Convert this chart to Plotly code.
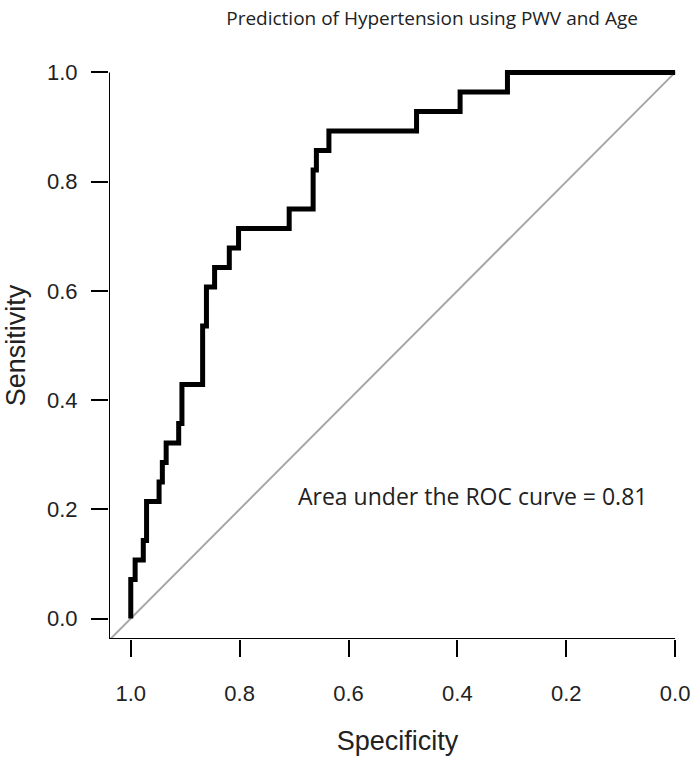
import plotly.graph_objects as go

# ROC step curve (specificity, sensitivity) corner points
specificity = [1.0, 1.0, 0.992, 0.977, 0.971, 0.948, 0.942, 0.935, 0.912, 0.906,
               0.868, 0.861, 0.846, 0.819, 0.802, 0.709, 0.665, 0.659, 0.636,
               0.475, 0.395, 0.308, 0.0]
sensitivity = [0/28, 2/28, 3/28, 4/28, 6/28, 7/28, 8/28, 9/28, 10/28, 12/28,
               15/28, 17/28, 18/28, 19/28, 20/28, 21/28, 23/28, 24/28, 25/28,
               26/28, 27/28, 28/28, 28/28]
tick_vals = [1.0, 0.8, 0.6, 0.4, 0.2, 0.0]
tick_text = ["1.0", "0.8", "0.6", "0.4", "0.2", "0.0"]
auc_text = "Area under the ROC curve = 0.81"
title_text = "Prediction of Hypertension using PWV and Age"

X0, Y0 = 1.04, -0.0375

fig = go.Figure()
# chance diagonal
fig.add_trace(go.Scatter(x=[X0, 0.0], y=[1 - X0, 1.0], mode="lines",
                         line=dict(color="#a6a6a6", width=2), hoverinfo="skip"))
fig.add_trace(go.Scatter(x=specificity, y=sensitivity, mode="lines",
                         line=dict(color="black", width=5, shape="hv"),
                         hoverinfo="skip"))

# axis lines (R style, bottom/left only, ending at extreme ticks)
fig.add_shape(type="line", xref="x", yref="y", x0=X0, x1=0.0, y0=Y0, y1=Y0,
              line=dict(color="black", width=2))
fig.add_shape(type="line", xref="x", yref="y", x0=X0, x1=X0, y0=Y0, y1=1.0,
              line=dict(color="black", width=2))

fig.add_annotation(x=0.372, y=0.224, xref="x", yref="y", text=auc_text,
                   showarrow=False, font=dict(family="Open Sans", size=23, color="#222"))
# y axis title (placed as rotated text, R-style)
fig.add_annotation(x=-0.162, y=0.503, xref="paper", yref="paper", text="Sensitivity",
                   textangle=-90, showarrow=False, xanchor="center", yanchor="middle",
                   font=dict(family="Liberation Sans", size=27, color="#222"))

fig.update_layout(
    width=698, height=762,
    margin=dict(l=109, r=8, t=56, b=123),
    paper_bgcolor="white", plot_bgcolor="white",
    showlegend=False,
    title=dict(text=title_text, x=0.619, xanchor="center", y=0.9764, yanchor="middle",
               font=dict(family="Open Sans", size=19, color="#222")),
    xaxis=dict(range=[X0, -0.02], tickvals=tick_vals, ticktext=tick_text,
               ticks="outside", ticklen=17, tickwidth=2, tickcolor="black",
               showgrid=False, zeroline=False, showline=False,
               tickfont=dict(family="Liberation Sans", size=22, color="#222"),
               ticklabelstandoff=18,
               title=dict(text="Specificity", standoff=25,
                          font=dict(family="Liberation Sans", size=27, color="#222"))),
    yaxis=dict(range=[Y0, 1.03], tickvals=tick_vals, ticktext=tick_text,
               ticks="outside", ticklen=17, tickwidth=2, tickcolor="black",
               showgrid=False, zeroline=False, showline=False,
               tickfont=dict(family="Liberation Sans", size=22, color="#222"),
               ticklabelstandoff=9),
)

fig.write_html("out.html", config={"displayModeBar": False},
               post_script="document.body.style.margin='0';document.body.style.overflow='hidden';")
